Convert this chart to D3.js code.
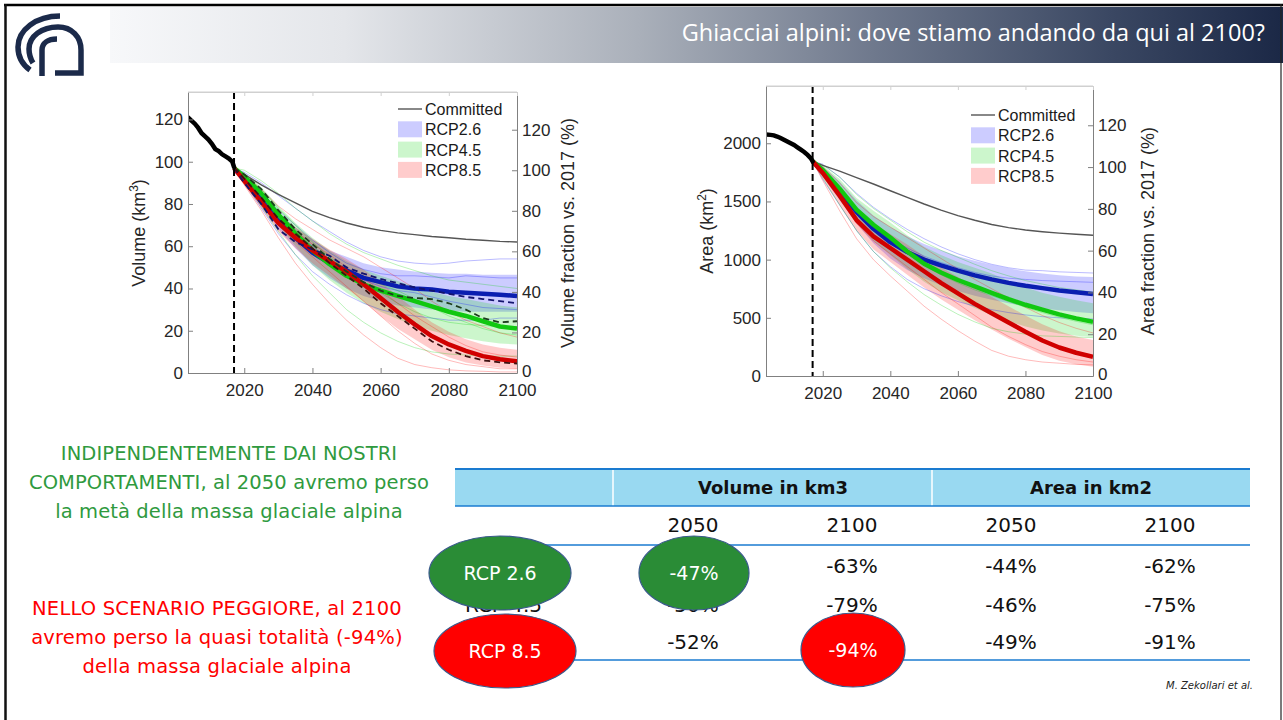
<!DOCTYPE html>
<html>
<head>
<meta charset="utf-8">
<script src="https://cdn.jsdelivr.net/npm/d3@7"></script>
<style>
  body { margin: 0; background: #fff; }
  svg { display: block; }
</style>
</head>
<body>
<div id="slide"></div>
<script>
// ---------- data ----------
var projYears = [2017, 2020, 2025, 2030, 2035, 2040, 2045, 2050, 2055, 2060, 2065, 2070, 2075, 2080, 2085, 2090, 2095, 2100];

// volume (km3)
var volHistYears = [2003.5, 2004.5, 2005.5, 2006.5, 2007.5, 2008.5, 2009.5, 2010.5, 2011.5, 2012.5, 2013.5, 2014.5, 2015.5, 2016.5, 2017];
var volHist = [121, 119.5, 118, 116, 113.5, 112, 110.5, 108.5, 106, 105, 103.5, 102.5, 101.5, 100, 97.5];
var volCommitted = [97, 94, 89, 84.5, 80.5, 76.5, 73.5, 71, 69, 67.5, 66.3, 65.5, 64.6, 64, 63.3, 62.8, 62.3, 62];
var volRcp26 = [97, 92, 82, 72, 64, 57, 52, 48.5, 45, 43, 41, 40, 39.5, 38.5, 38, 37.5, 37, 36.5];
var volRcp45 = [97, 93, 85, 75, 66, 58, 51.5, 46, 42, 39, 36.5, 34, 31.5, 29, 27, 24.5, 22, 21];
var volRcp85 = [97, 91, 81, 71, 64, 58, 53, 48, 42, 35.5, 29, 23, 17.5, 13.5, 10.5, 8, 6.5, 5.5];
var volRcp26Lo = [97, 90, 79, 68, 59, 51, 45, 40, 36.5, 34, 32, 31, 30, 29.5, 29, 29, 29, 29];
var volRcp26Hi = [97, 94, 85, 76, 69, 63, 58, 55, 52, 50, 49, 48, 47.5, 47, 47, 46.5, 46.5, 46.5];
var volRcp45Lo = [97, 91, 81, 70, 60, 51, 44, 38, 33, 29, 25.5, 22.5, 20, 18, 16.5, 15, 14, 13.5];
var volRcp45Hi = [97, 95, 88, 79, 71, 64, 58, 53, 49, 46, 43.5, 41, 38.5, 36.5, 35, 33.5, 32, 31];
var volRcp85Lo = [97, 89, 78, 67, 59, 52, 46, 40, 34, 27, 21, 16, 11, 7.5, 5, 3.5, 2.5, 2];
var volRcp85Hi = [97, 93, 84, 75, 69, 63.5, 58.5, 54, 49, 43, 36.5, 30, 24, 19.5, 16, 13.5, 12, 11];
// second model (dashed)
var volRcp26Alt = [97, 90, 80, 68, 62, 58.5, 55.5, 50, 47, 44.5, 42.5, 40.5, 39, 37.5, 36, 35, 34, 33];
var volRcp45Alt = [97, 94, 87, 77, 68, 61, 54, 48, 43, 39, 36.5, 35.5, 35, 33, 30, 26, 24, 24.5];
var volRcp85Alt = [97, 92, 83, 73, 66, 59, 52, 46, 40, 33, 27, 21, 15, 11, 8, 6, 5, 4.5];
// single ensemble members (thin lines)
var volRcp26Members = [
  [97, 95, 90, 84, 78, 72, 67, 62, 58, 55, 53, 52, 51.5, 52, 53, 53.5, 54, 54],
  [97, 90, 78, 66, 56, 48, 42, 37, 33, 30, 28, 27, 26, 25, 25, 25, 26, 26],
  [97, 92, 84, 74, 66, 60, 53, 49, 44, 41, 39, 38, 36, 34, 32.5, 31, 30.5, 30],
  [97, 93, 86, 77, 70, 63, 57, 52, 49, 47, 46, 46, 45.5, 45, 46, 45.5, 45, 45]
];
var volRcp45Members = [
  [97, 96, 91, 85, 78, 72, 66, 61, 57, 54, 51, 48.5, 46, 44, 43, 42, 41, 40],
  [97, 90, 79, 67, 56, 46, 38, 30, 24, 19, 15, 12, 10, 9, 8.5, 8, 8, 8],
  [97, 93, 86, 76, 68, 60, 54, 49, 45, 42, 39, 35, 31, 27, 24, 21, 19, 18],
  [97, 94, 87, 78, 70, 62, 55, 49, 43, 38, 33, 29, 26, 24, 23, 22.5, 22, 22]
];
var volRcp85Members = [
  [97, 89, 77, 64, 52, 42, 33, 25, 18, 12, 7, 4, 2.5, 1.5, 1, 0.8, 0.5, 0.5],
  [97, 94, 87, 79, 73, 68, 63, 59, 55, 50, 45, 40, 34, 29, 25, 22, 19, 17],
  [97, 91, 80, 70, 62, 55, 48, 41, 34, 27, 20, 14, 9, 6, 4, 3, 2, 2],
  [97, 92, 83, 74, 67, 61, 56, 50, 45, 39, 33, 27, 22, 17, 13, 10, 8.5, 7.5]
];

// area (km2)
var areaHistYears = [2003.2, 2004.5, 2005.5, 2006.5, 2007.5, 2008.5, 2009.5, 2010.5, 2011.5, 2012.5, 2013.5, 2014.5, 2015.5, 2016.5, 2017];
var areaHist = [2075, 2072, 2068, 2058, 2045, 2030, 2015, 2000, 1985, 1965, 1945, 1925, 1900, 1870, 1845];
var areaCommitted = [1845, 1810, 1760, 1705, 1650, 1592, 1535, 1478, 1425, 1378, 1338, 1302, 1275, 1255, 1240, 1228, 1218, 1210];
var areaRcp26 = [1845, 1755, 1590, 1410, 1265, 1150, 1065, 1000, 950, 905, 865, 830, 800, 775, 755, 735, 720, 705];
var areaRcp45 = [1845, 1770, 1610, 1430, 1300, 1190, 1070, 965, 890, 825, 770, 715, 660, 612, 570, 530, 495, 465];
var areaRcp85 = [1845, 1745, 1550, 1340, 1200, 1100, 1000, 900, 800, 710, 620, 540, 460, 380, 305, 245, 200, 165];
var areaRcp26Lo = [1845, 1710, 1510, 1310, 1140, 1010, 910, 840, 780, 730, 690, 655, 625, 600, 580, 565, 550, 540];
var areaRcp26Hi = [1845, 1800, 1670, 1510, 1380, 1280, 1200, 1135, 1080, 1030, 990, 955, 925, 900, 880, 865, 855, 850];
var areaRcp45Lo = [1845, 1720, 1520, 1320, 1160, 1040, 920, 810, 720, 650, 585, 525, 470, 425, 390, 365, 345, 335];
var areaRcp45Hi = [1845, 1810, 1690, 1530, 1420, 1320, 1210, 1110, 1040, 980, 930, 880, 820, 760, 715, 680, 650, 625];
var areaRcp85Lo = [1845, 1700, 1470, 1250, 1090, 980, 870, 760, 660, 570, 480, 400, 320, 250, 180, 130, 100, 80];
var areaRcp85Hi = [1845, 1790, 1630, 1440, 1310, 1220, 1130, 1030, 935, 850, 760, 680, 600, 520, 445, 385, 340, 310];
var areaRcp26Members = [
  [1845, 1820, 1710, 1570, 1450, 1350, 1260, 1180, 1110, 1050, 1000, 960, 930, 910, 905, 895, 890, 885],
  [1845, 1690, 1470, 1250, 1070, 940, 830, 750, 690, 640, 600, 570, 545, 525, 510, 500, 495, 490],
  [1845, 1760, 1600, 1430, 1290, 1180, 1100, 1030, 975, 930, 890, 860, 840, 830, 820, 815, 810, 805]
];
var areaRcp45Members = [
  [1845, 1815, 1710, 1560, 1440, 1340, 1240, 1150, 1080, 1020, 960, 905, 860, 820, 790, 760, 740, 720],
  [1845, 1700, 1470, 1250, 1070, 930, 810, 700, 610, 530, 465, 410, 380, 360, 345, 340, 335, 330],
  [1845, 1760, 1590, 1410, 1270, 1160, 1050, 950, 870, 800, 740, 690, 640, 590, 545, 505, 470, 440]
];
var areaRcp85Members = [
  [1845, 1680, 1420, 1180, 1000, 860, 730, 600, 490, 390, 300, 220, 170, 140, 120, 110, 100, 95],
  [1845, 1800, 1660, 1490, 1370, 1280, 1190, 1100, 1010, 920, 830, 750, 670, 590, 520, 460, 410, 370],
  [1845, 1740, 1530, 1310, 1160, 1050, 940, 830, 720, 620, 520, 420, 340, 270, 210, 170, 140, 120]
];

var xTicks = [2020, 2040, 2060, 2080, 2100];
var volTicks = [0, 20, 40, 60, 80, 100, 120];
var areaTicks = [0, 500, 1000, 1500, 2000];
var pctTicks = [0, 20, 40, 60, 80, 100, 120];
var legendLabels = ['Committed', 'RCP2.6', 'RCP4.5', 'RCP8.5'];

// table
var tableGroups = ['Volume in km3', 'Area in km2'];
var tableYears = ['2050', '2100', '2050', '2100'];
var scenarioLabels = ['RCP 2.6', 'RCP 4.5', 'RCP 8.5'];
var volChange2050 = ['-47%', '-50%', '-52%'];
var volChange2100 = ['-63%', '-79%', '-94%'];
var areaChange2050 = ['-44%', '-46%', '-49%'];
var areaChange2100 = ['-62%', '-75%', '-91%'];

var greenLines = ['INDIPENDENTEMENTE DAI NOSTRI', 'COMPORTAMENTI, al 2050 avremo perso', 'la metà della massa glaciale alpina'];
var redLines = ['NELLO SCENARIO PEGGIORE, al 2100', 'avremo perso la quasi totalità (-94%)', 'della massa glaciale alpina'];

// ---------- slide ----------
var W = 1283, H = 720;
var GOTHIC = "'DejaVu Sans', sans-serif";
var ARIAL = "'Liberation Sans', Arial, sans-serif";
var C26 = '#0000ff', C45 = '#00d000', C85 = '#ff0000';

var svg = d3.select('#slide').append('svg')
    .attr('width', W).attr('height', H);

svg.append('rect').attr('width', W).attr('height', H).attr('fill', '#fff');

var defs = svg.append('defs');
var grad = defs.append('linearGradient').attr('id', 'hdr').attr('x1', 0).attr('x2', 1).attr('y1', 0).attr('y2', 0);
[[0, '#f7f8fa'], [0.2, '#e4e6ea'], [0.45, '#aab0ba'], [0.65, '#6f798d'], [0.85, '#3b4863'], [1, '#1b2846']]
    .forEach(function (s) { grad.append('stop').attr('offset', s[0]).attr('stop-color', s[1]); });

// header band + title
svg.append('rect').attr('x', 110).attr('y', 7).attr('width', W - 110).attr('height', 56).attr('fill', 'url(#hdr)');
svg.append('text').attr('x', 1265).attr('y', 41).attr('text-anchor', 'end')
    .style('font-family', "'Open Sans', sans-serif").style('font-size', '23.5px').attr('fill', '#fff')
    .text('Ghiacciai alpini: dove stiamo andando da qui al 2100?');

// slide frame
svg.append('line').attr('x1', 4).attr('x2', W).attr('y1', 5).attr('y2', 5).attr('stroke', '#000').attr('stroke-width', 2.5);
svg.append('line').attr('x1', 5.5).attr('x2', 5.5).attr('y1', 4).attr('y2', H).attr('stroke', '#111').attr('stroke-width', 2.5);
svg.append('line').attr('x1', 1281).attr('x2', 1281).attr('y1', 4).attr('y2', H).attr('stroke', '#222').attr('stroke-width', 1.2);

// CNR logo
var logo = svg.append('g').attr('fill', 'none').attr('stroke', '#1b2a4a').attr('stroke-width', 5.5);
logo.append('path').attr('d', 'M60,16 C36,16 18,30 18,47 C18,57 23,65 30,70');
logo.append('path').attr('d', 'M33,63 C30,58 29,54 29,49 C29,36 42,27 58,27 C72,27 81,37 81,50 L81,73 L55,73');
logo.append('path').attr('d', 'M42,76 L42,50 C42,43 48,39 57,39');

// ---------- chart panels ----------
function drawPanel(p) {
    var g = svg.append('g');
    var x = d3.scaleLinear().domain(p.xDomain).range([p.left, p.right]);
    var y = d3.scaleLinear().domain([0, p.yMax]).range([p.bottom, p.top]);
    var pct = d3.scaleLinear().domain([0, p.pctMax]).range([p.bottom, p.top]);

    var clipId = 'clip' + p.id;
    defs.append('clipPath').attr('id', clipId).append('rect')
        .attr('x', p.left).attr('y', p.top).attr('width', p.right - p.left).attr('height', p.bottom - p.top);
    var plot = g.append('g').attr('clip-path', 'url(#' + clipId + ')');

    var line = d3.line().x(function (d) { return x(d[0]); }).y(function (d) { return y(d[1]); });
    var area = d3.area().x(function (d) { return x(d[0]); })
        .y0(function (d) { return y(d[1]); }).y1(function (d) { return y(d[2]); });
    function pairs(vals, yrs) { return vals.map(function (v, i) { return [(yrs || projYears)[i], v]; }); }

    // shaded ranges
    p.scen.forEach(function (s) {
        plot.append('path')
            .datum(s.lo.map(function (v, i) { return [projYears[i], v, s.hi[i]]; }))
            .attr('d', area).attr('fill', s.color).attr('fill-opacity', 0.2);
    });
    // single members
    p.scen.forEach(function (s) {
        plot.append('g').selectAll('path').data(s.members).enter().append('path')
            .attr('d', function (m) { return line(pairs(m)); })
            .attr('fill', 'none').attr('stroke', s.color).attr('stroke-opacity', 0.3).attr('stroke-width', 0.9);
    });
    // committed
    plot.append('path').datum(pairs(p.committed)).attr('d', line)
        .attr('fill', 'none').attr('stroke', '#555').attr('stroke-width', 1.4);
    // medians
    p.scen.forEach(function (s) {
        plot.append('path').datum(pairs(s.med)).attr('d', line)
            .attr('fill', 'none').attr('stroke', s.dark).attr('stroke-width', 4.5).attr('stroke-linejoin', 'round');
    });
    // second model, dashed
    p.scen.forEach(function (s) {
        if (!s.alt) return;
        plot.append('path').datum(pairs(s.alt)).attr('d', line)
            .attr('fill', 'none').attr('stroke', s.altColor).attr('stroke-width', 1.8).attr('stroke-dasharray', '6,4');
    });
    // observed past
    plot.append('path').datum(pairs(p.hist, p.histYears)).attr('d', line)
        .attr('fill', 'none').attr('stroke', '#000').attr('stroke-width', 4.5).attr('stroke-linecap', 'round');
    // 2017 marker
    g.append('line').attr('x1', x(2017)).attr('x2', x(2017)).attr('y1', p.top).attr('y2', p.bottom)
        .attr('stroke', '#000').attr('stroke-width', 2).attr('stroke-dasharray', '7,4');

    // box + axes (matlab style, ticks inside)
    g.append('line').attr('x1', p.left).attr('x2', p.right).attr('y1', p.top).attr('y2', p.top).attr('stroke', '#d0d0d0');
    var ax = g.append('g').attr('transform', 'translate(0,' + p.bottom + ')')
        .call(d3.axisBottom(x).tickValues(xTicks).tickSizeInner(-5).tickSizeOuter(0).tickPadding(11).tickFormat(d3.format('d')));
    var ay = g.append('g').attr('transform', 'translate(' + p.left + ',0)')
        .call(d3.axisLeft(y).tickValues(p.yTicks).tickSizeInner(-5).tickSizeOuter(0).tickPadding(5).tickFormat(d3.format('d')));
    var ap = g.append('g').attr('transform', 'translate(' + p.right + ',0)')
        .call(d3.axisRight(pct).tickValues(pctTicks).tickSizeInner(-5).tickSizeOuter(0).tickPadding(5).tickFormat(d3.format('d')));
    g.append('g').attr('transform', 'translate(0,' + p.top + ')')
        .call(d3.axisTop(x).tickValues(xTicks).tickSizeInner(-4).tickSizeOuter(0).tickFormat(''))
        .selectAll('line,path').attr('stroke', '#d0d0d0');
    [ax, ay, ap].forEach(function (a) {
        a.select('.domain').attr('stroke', '#808080');
        a.selectAll('.tick line').attr('stroke', '#808080');
        a.selectAll('text').style('font-family', ARIAL).style('font-size', '17px').attr('fill', '#262626');
    });
    // the 0 on the right axis sits a touch higher, clear of the year labels
    ap.selectAll('.tick text').filter(function (d) { return d === 0; }).attr('dy', '0.2em');

    // axis titles
    var t1 = g.append('text').attr('transform', 'translate(' + p.yTitleX + ',' + p.titleY + ') rotate(-90)')
        .attr('text-anchor', 'middle').style('font-family', ARIAL).style('font-size', '18px').attr('fill', '#262626');
    t1.append('tspan').text(p.yTitle + ' (km');
    t1.append('tspan').attr('dy', -7).style('font-size', '12px').text(p.sup);
    t1.append('tspan').attr('dy', 7).text(')');
    g.append('text').attr('transform', 'translate(' + p.pctTitleX + ',' + p.titleY + ') rotate(-90)')
        .attr('text-anchor', 'middle').style('font-family', ARIAL).style('font-size', '18px').attr('fill', '#262626')
        .text(p.pctTitle);

    // legend
    var lg = g.append('g').attr('transform', 'translate(' + p.legX + ',' + p.legY + ')');
    legendLabels.forEach(function (lab, i) {
        var row = lg.append('g').attr('transform', 'translate(0,' + (i * 20.3) + ')');
        if (i === 0) {
            row.append('line').attr('x1', 0).attr('x2', 24).attr('stroke', '#555').attr('stroke-width', 1.4);
        } else {
            row.append('rect').attr('x', 0).attr('y', -8).attr('width', 24).attr('height', 16)
                .attr('fill', p.scen[i - 1].color).attr('fill-opacity', 0.2);
        }
        row.append('text').attr('x', 27).attr('y', 6).text(lab)
            .style('font-family', ARIAL).style('font-size', '16px').attr('fill', '#1a1a1a');
    });
}

drawPanel({
    id: 'vol', left: 188, right: 517, top: 92, bottom: 373,
    xDomain: [2003.5, 2100], yMax: 133, pctMax: 138.6, yTicks: volTicks,
    hist: volHist, histYears: volHistYears, committed: volCommitted,
    yTitle: 'Volume', sup: '3', pctTitle: 'Volume fraction vs. 2017 (%)',
    yTitleX: 145, pctTitleX: 574, titleY: 233, legX: 398, legY: 109,
    scen: [
        { color: C26, dark: '#0a1eb0', med: volRcp26, lo: volRcp26Lo, hi: volRcp26Hi, members: volRcp26Members, alt: volRcp26Alt, altColor: '#14146e' },
        { color: C45, dark: '#10c810', med: volRcp45, lo: volRcp45Lo, hi: volRcp45Hi, members: volRcp45Members, alt: volRcp45Alt, altColor: '#1d3d1d' },
        { color: C85, dark: '#d00000', med: volRcp85, lo: volRcp85Lo, hi: volRcp85Hi, members: volRcp85Members, alt: volRcp85Alt, altColor: '#3d1010' }
    ]
});

drawPanel({
    id: 'area', left: 766, right: 1093, top: 86, bottom: 376,
    xDomain: [2003.2, 2100], yMax: 2492, pctMax: 138.8, yTicks: areaTicks,
    hist: areaHist, histYears: areaHistYears, committed: areaCommitted,
    yTitle: 'Area', sup: '2', pctTitle: 'Area fraction vs. 2017 (%)',
    yTitleX: 713, pctTitleX: 1154, titleY: 231, legX: 971, legY: 115,
    scen: [
        { color: C26, dark: '#0a1eb0', med: areaRcp26, lo: areaRcp26Lo, hi: areaRcp26Hi, members: areaRcp26Members },
        { color: C45, dark: '#10c810', med: areaRcp45, lo: areaRcp45Lo, hi: areaRcp45Hi, members: areaRcp45Members },
        { color: C85, dark: '#d00000', med: areaRcp85, lo: areaRcp85Lo, hi: areaRcp85Hi, members: areaRcp85Members }
    ]
});

// ---------- left hand messages ----------
greenLines.forEach(function (t, i) {
    svg.append('text').attr('x', 229).attr('y', 460 + i * 29).attr('text-anchor', 'middle')
        .style('font-family', GOTHIC).style('font-size', '19.5px').style('letter-spacing', '0.1px')
        .attr('fill', '#2f9a3e').text(t);
});
redLines.forEach(function (t, i) {
    svg.append('text').attr('x', 217).attr('y', 615 + i * 29).attr('text-anchor', 'middle')
        .style('font-family', GOTHIC).style('font-size', '19.5px').style('letter-spacing', '0.2px')
        .attr('fill', '#ff0000').text(t);
});

// ---------- table ----------
var tb = { left: 455, right: 1250, top: 469, head: 506, yearLine: 545, bottom: 660 };
var colX = [693, 852, 1011, 1170];
var rowY = [566, 605, 642];
svg.append('rect').attr('x', tb.left).attr('y', tb.top).attr('width', tb.right - tb.left).attr('height', tb.head - tb.top).attr('fill', '#99d9f1');
[613, 932].forEach(function (sx) {
    svg.append('line').attr('x1', sx).attr('x2', sx).attr('y1', tb.top).attr('y2', tb.head).attr('stroke', '#fff').attr('stroke-width', 1.5);
});
[tb.top, tb.head, tb.yearLine, tb.bottom].forEach(function (ly, i) {
    svg.append('line').attr('x1', tb.left).attr('x2', tb.right).attr('y1', ly).attr('y2', ly)
        .attr('stroke', '#1a7bd0').attr('stroke-width', i === 0 ? 2 : 1.5);
});
tableGroups.forEach(function (t, i) {
    svg.append('text').attr('x', i === 0 ? 773 : 1091).attr('y', 494).attr('text-anchor', 'middle')
        .style('font-family', GOTHIC).style('font-size', '18px').style('font-weight', 'bold').attr('fill', '#111').text(t);
});
tableYears.forEach(function (t, i) {
    svg.append('text').attr('x', colX[i]).attr('y', 532).attr('text-anchor', 'middle')
        .style('font-family', GOTHIC).style('font-size', '20px').attr('fill', '#111').text(t);
});

// highlighted cells are drawn inside the ellipses below, not under them
var highlighted = { '0,-1': 1, '0,0': 1, '2,-1': 1, '2,1': 1 };
var cols = [volChange2050, volChange2100, areaChange2050, areaChange2100];
scenarioLabels.forEach(function (lab, r) {
    if (!highlighted[r + ',-1']) {
        svg.append('text').attr('x', 465).attr('y', rowY[r] + 7)
            .style('font-family', GOTHIC).style('font-size', '20px').attr('fill', '#111').text(lab);
    }
    cols.forEach(function (c, k) {
        if (highlighted[r + ',' + k]) return;
        svg.append('text').attr('x', colX[k]).attr('y', rowY[r] + 7).attr('text-anchor', 'middle')
            .style('font-family', GOTHIC).style('font-size', '20px').attr('fill', '#111').text(c[r]);
    });
});

// highlight ellipses
var marks = [
    { cx: 500, cy: 573, rx: 71, ry: 37, fill: '#2a8c36', text: scenarioLabels[0] },
    { cx: 694, cy: 573, rx: 55, ry: 37, fill: '#2a8c36', text: volChange2050[0] },
    { cx: 505, cy: 651, rx: 71, ry: 37, fill: '#ff0000', text: scenarioLabels[2] },
    { cx: 853, cy: 650, rx: 52, ry: 37, fill: '#ff0000', text: volChange2100[2] }
];
marks.forEach(function (m) {
    svg.append('ellipse').attr('cx', m.cx).attr('cy', m.cy).attr('rx', m.rx).attr('ry', m.ry)
        .attr('fill', m.fill).attr('stroke', '#3a5a8c').attr('stroke-width', 1.2);
    svg.append('text').attr('x', m.cx).attr('y', m.cy + 7).attr('text-anchor', 'middle')
        .style('font-family', GOTHIC).style('font-size', '19px').attr('fill', '#fff').text(m.text);
});

svg.append('text').attr('x', 1253).attr('y', 689).attr('text-anchor', 'end')
    .style('font-family', GOTHIC).style('font-size', '10px').style('font-style', 'italic').attr('fill', '#222')
    .text('M. Zekollari et al.');
</script>
</body>
</html>
